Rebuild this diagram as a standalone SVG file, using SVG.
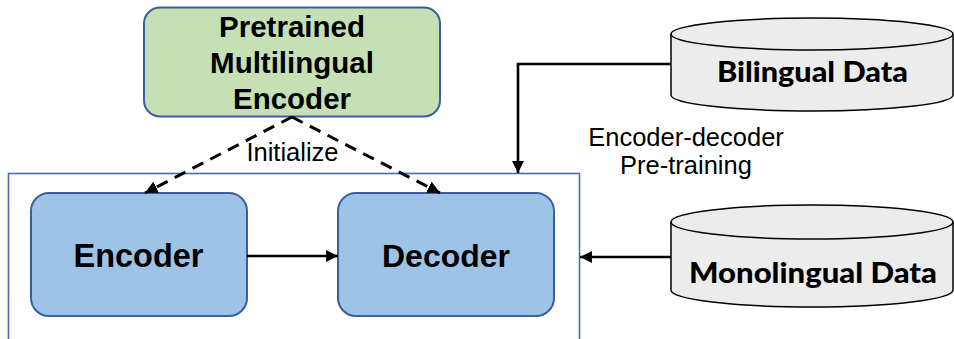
<svg xmlns="http://www.w3.org/2000/svg" width="954" height="339" viewBox="0 0 954 339">
  <style>
    .box { stroke: #3b5e9e; stroke-width: 2; }
    .enc { fill: #9dc3e6; }
    .pre { fill: #c5e0b4; }
    .frame { fill: none; stroke: #4a6db0; stroke-width: 1.6; }
    .db { fill: #ececec; stroke: #000; stroke-width: 1.5; }
    .title { font-family: "Liberation Sans", Arial, sans-serif; font-weight: bold; fill: #000; text-anchor: middle; }
    .dbtxt { font-family: Lato, "Noto Sans", sans-serif; font-weight: 900; fill: #000; text-anchor: middle; }
    .note { font-family: "Liberation Sans", Arial, sans-serif; fill: #000; text-anchor: middle; }
    .link { fill: none; stroke: #000; stroke-width: 2.6; }
    .dash { stroke-width: 3; stroke-dasharray: 12 8; }
  </style>
  <defs>
    <marker id="arrow" viewBox="0 0 10 10" refX="10" refY="5" markerWidth="4.6" markerHeight="4.6" markerUnits="strokeWidth" orient="auto">
      <path d="M0,0 L10,5 L0,10 Z" fill="#000"/>
    </marker>
    <marker id="arrow-d" viewBox="0 0 10 10" refX="10" refY="5" markerWidth="4.2" markerHeight="4.2" markerUnits="strokeWidth" orient="auto">
      <path d="M0,0 L10,5 L0,10 Z" fill="#000"/>
    </marker>
  </defs>

  <rect width="954" height="339" fill="#fff"/>

  <!-- frame around the encoder-decoder model -->
  <g id="model-frame">
    <rect class="frame" x="8.5" y="173.5" width="571" height="180"/>
  </g>

  <g id="pretrained-encoder">
    <rect class="box pre" x="144" y="7.5" width="296" height="109" rx="16"/>
    <text class="title" font-size="29.5" x="292" y="37">Pretrained</text>
    <text class="title" font-size="29.5" x="292" y="73">Multilingual</text>
    <text class="title" font-size="29.5" x="292" y="109">Encoder</text>
  </g>

  <g id="encoder">
    <rect class="box enc" x="31" y="193" width="216" height="123" rx="18"/>
    <text class="title" font-size="32.5" x="138.5" y="267">Encoder</text>
  </g>

  <g id="decoder">
    <rect class="box enc" x="338" y="193" width="216" height="123" rx="18"/>
    <text class="title" font-size="32" x="446" y="267">Decoder</text>
  </g>

  <g id="bilingual-data">
    <path class="db" d="M671,34 L671,95 A141,16 0 0 0 953,95 L953,34"/>
    <ellipse class="db" cx="812" cy="34" rx="141" ry="16"/>
    <text class="dbtxt" font-size="28" x="812.5" y="82" textLength="191" lengthAdjust="spacingAndGlyphs">Bilingual Data</text>
  </g>

  <g id="monolingual-data">
    <path class="db" d="M671,222 L671,290 A141,17 0 0 0 953,290 L953,222"/>
    <ellipse class="db" cx="812" cy="222" rx="141" ry="17"/>
    <text class="dbtxt" font-size="28" x="813" y="283" textLength="248" lengthAdjust="spacingAndGlyphs">Monolingual Data</text>
  </g>

  <g id="connectors">
    <path class="link dash" d="M292,117 L145,193" marker-end="url(#arrow-d)"/>
    <path class="link dash" d="M292,117 L440,193" marker-end="url(#arrow-d)"/>
    <path class="link" d="M247,256 L338,256" marker-end="url(#arrow)"/>
    <path class="link" d="M671,64 L518,64 L518,173" marker-end="url(#arrow)"/>
    <path class="link" d="M671,257 L580,257" marker-end="url(#arrow)"/>
  </g>

  <g id="labels">
    <text class="note" font-size="25.5" x="292.5" y="161">Initialize</text>
    <text class="note" font-size="25.5" x="686" y="146">Encoder-decoder</text>
    <text class="note" font-size="25.5" x="686" y="174">Pre-training</text>
  </g>
</svg>
